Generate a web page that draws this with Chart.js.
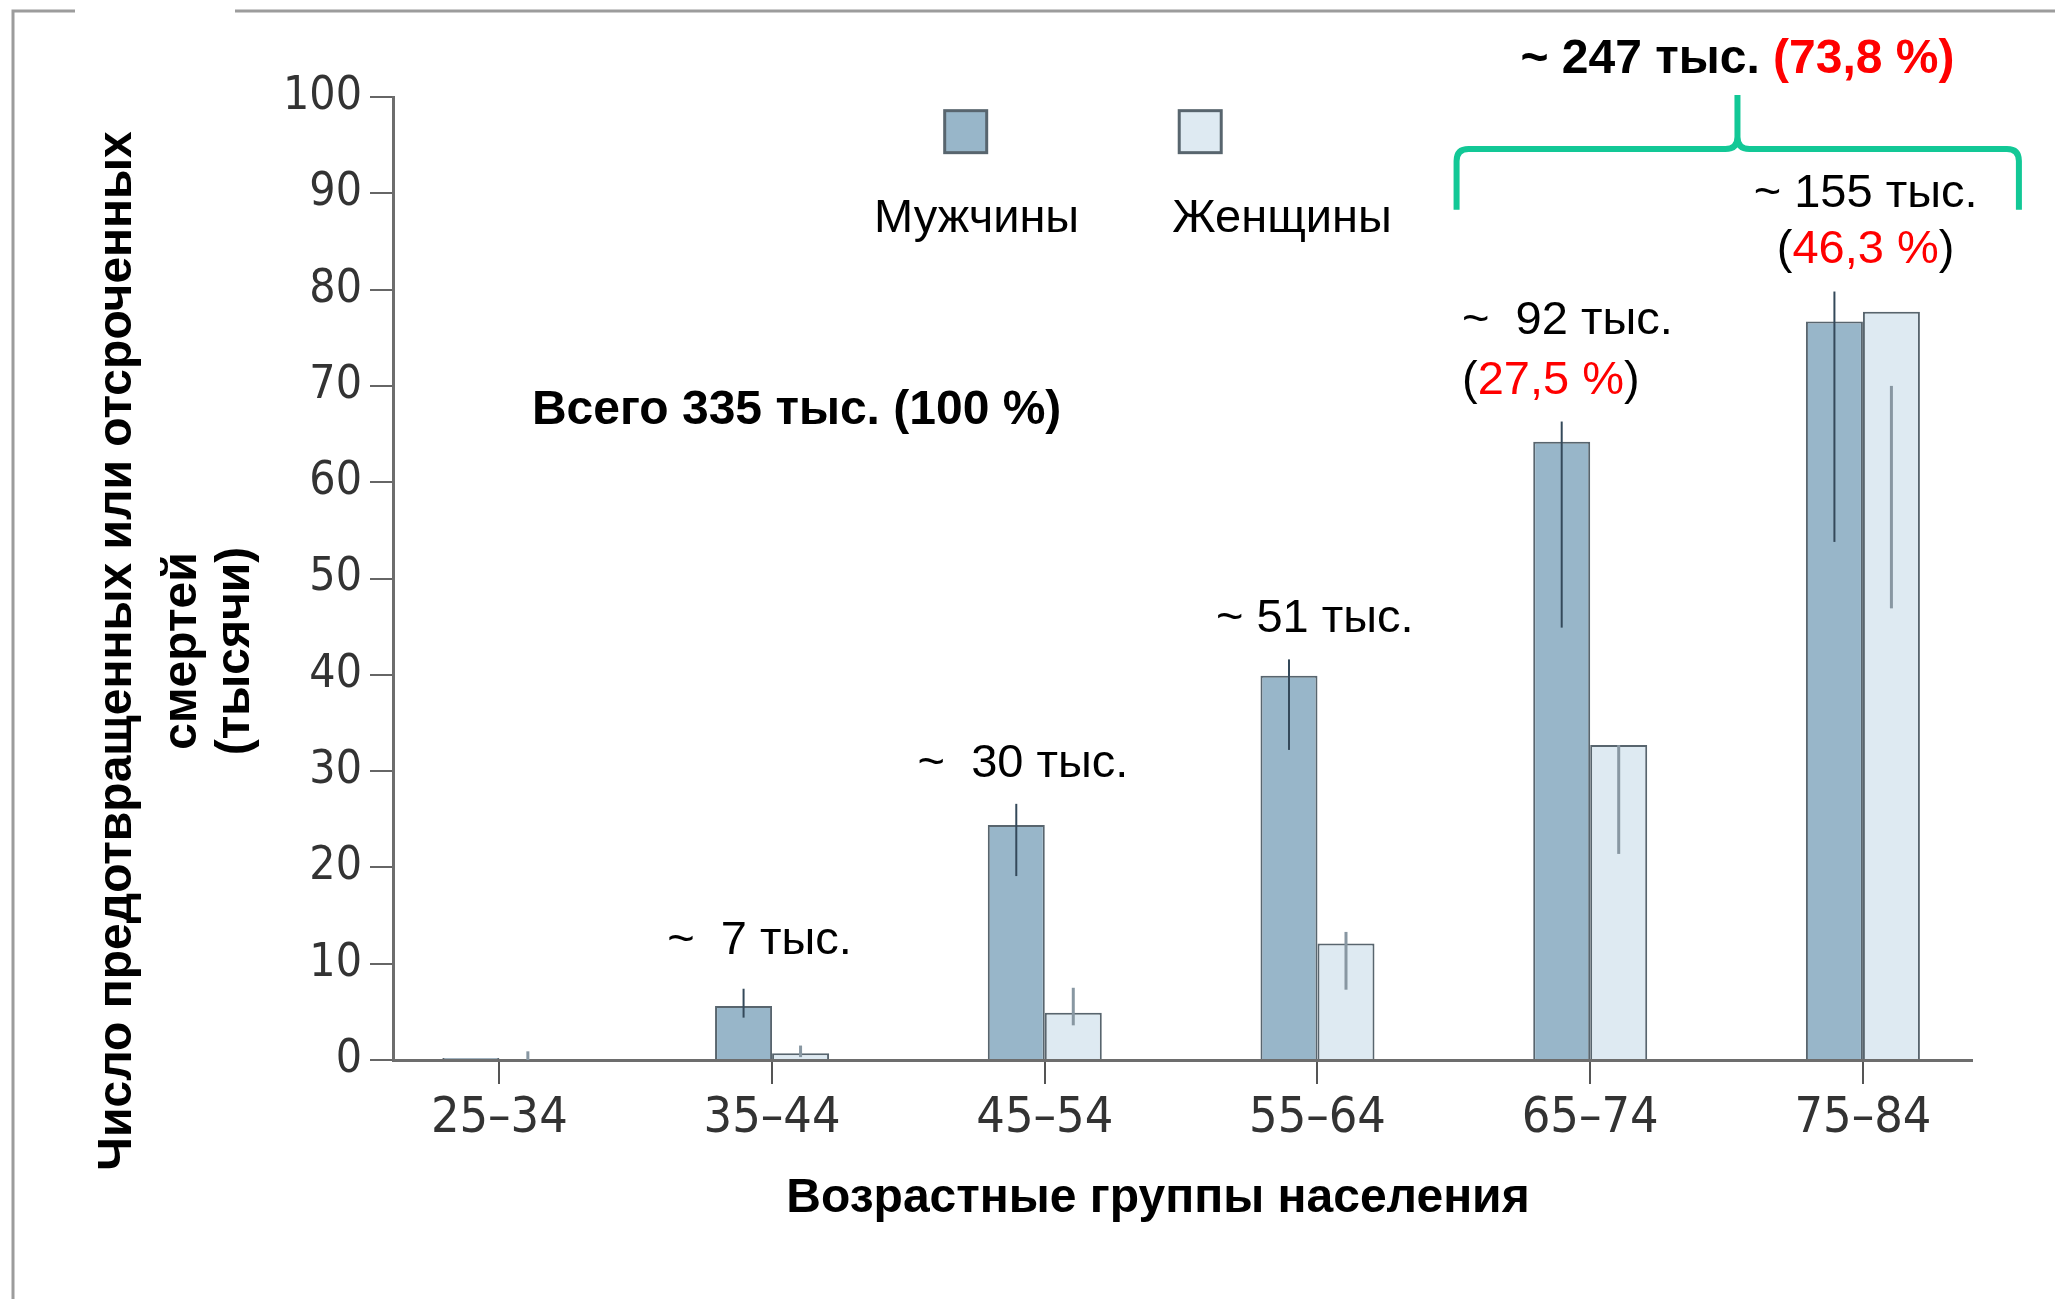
<!DOCTYPE html>
<html>
<head>
<meta charset="utf-8">
<script src="https://cdn.jsdelivr.net/npm/chart.js@4.4.1/dist/chart.umd.min.js"></script>
<style>
  html, body { margin: 0; padding: 0; background: #fff; }
  canvas { display: block; }
</style>
</head>
<body>
<canvas id="chart" width="2055" height="1299"></canvas>
<script>
// age groups and values (thousands of deaths)
const ageGroups = ['25–34', '35–44', '45–54', '55–64', '65–74', '75–84'];
const menValues = [0.2, 5.6, 24.4, 39.9, 64.2, 76.7];
const womenValues = [0.1, 0.7, 4.9, 12.1, 32.7, 77.7];
// uncertainty ranges
const menLow = [0, 4.4, 19.1, 32.2, 44.9, 53.8];
const menHigh = [0, 7.4, 26.6, 41.6, 66.3, 79.8];
const womenLow = [0, 0.3, 3.6, 7.3, 21.4, 46.9];
const womenHigh = [0.9, 1.5, 7.5, 13.3, 32.7, 70.0];
const yTicks = [0, 10, 20, 30, 40, 50, 60, 70, 80, 90, 100];
const seriesNames = ['Мужчины', 'Женщины'];

const RED = '#ff0000';
const TEXT_FONT = "'Liberation Sans', Arial, sans-serif";
const TICK_FONT = "'DejaVu Sans Condensed', 'DejaVu Sans', sans-serif";

// annotations, placed in data units (x = category index, y = value)
const notes = [
    { x: 1.09, y: 67.4, bold: true, parts: [['Всего 335 тыс. (100 %)', '#000']] },
    { x: 0.954, y: 12.4, parts: [['~  7 тыс.', '#000']] },
    { x: 1.92, y: 30.7, parts: [['~  30 тыс.', '#000']] },
    { x: 2.99, y: 45.8, parts: [['~ 51 тыс.', '#000']] },
    { x: 3.53, y: 76.7, align: 'left', parts: [['~  92 тыс.', '#000']] },
    { x: 3.53, y: 70.5, align: 'left', parts: [['(', '#000'], ['27,5 %', RED], [')', '#000']] },
    { x: 5.01, y: 89.9, parts: [['~ 155 тыс.', '#000']] },
    { x: 5.01, y: 84.1, parts: [['(', '#000'], ['46,3 %', RED], [')', '#000']] },
    { x: 4.54, y: 103.9, bold: true, parts: [['~ 247 тыс. ', '#000'], ['(73,8 %)', RED]] }
];

const legendItems = [
    { sq: 1.71, text: 1.75 },
    { sq: 2.57, text: 2.87 }
];

const brace = { x0: 3.51, xm: 4.54, x1: 5.572, yEnd: 88.3, yBar: 94.6, yTip: 100.2 };

const menFill = '#98b6c9';
const womenFill = '#deeaf2';
const barBorder = '#58656e';

function drawParts(ctx, parts, x, y, align) {
    const total = parts.reduce((w, p) => w + ctx.measureText(p[0]).width, 0);
    let cx = align === 'left' ? x : x - total / 2;
    ctx.textAlign = 'left';
    parts.forEach(([t, c]) => {
        ctx.fillStyle = c;
        ctx.fillText(t, cx, y);
        cx += ctx.measureText(t).width;
    });
}

const decor = {
    id: 'decor',
    beforeDraw(chart) {
        const ctx = chart.ctx;
        ctx.save();
        ctx.fillStyle = '#fff';
        ctx.fillRect(0, 0, chart.width, chart.height);
        // frame of the original slide
        ctx.strokeStyle = '#9c9c9c';
        ctx.lineWidth = 3;
        ctx.beginPath();
        ctx.moveTo(13, chart.height);
        ctx.lineTo(13, 11);
        ctx.lineTo(75, 11);
        ctx.moveTo(235, 11);
        ctx.lineTo(chart.width, 11);
        ctx.stroke();
        ctx.restore();
    },
    afterDatasetsDraw(chart) {
        const ctx = chart.ctx;
        const y = chart.scales.y;
        const sets = [
            { meta: chart.getDatasetMeta(0), lo: menLow, hi: menHigh, color: '#34495a', w: 2 },
            { meta: chart.getDatasetMeta(1), lo: womenLow, hi: womenHigh, color: '#8897a2', w: 3 }
        ];
        ctx.save();
        sets.forEach(s => {
            s.meta.data.forEach((bar, i) => {
                if (s.hi[i] <= s.lo[i]) return;
                ctx.strokeStyle = s.color;
                ctx.lineWidth = s.w;
                ctx.beginPath();
                ctx.moveTo(bar.x, y.getPixelForValue(s.lo[i]));
                ctx.lineTo(bar.x, y.getPixelForValue(s.hi[i]));
                ctx.stroke();
            });
        });
        ctx.restore();
    },
    afterDraw(chart) {
        const ctx = chart.ctx;
        const xs = chart.scales.x, ys = chart.scales.y;
        ctx.save();
        ctx.textBaseline = 'middle';

        notes.forEach(n => {
            ctx.font = (n.bold ? 'bold 48px ' : '47px ') + TEXT_FONT;
            drawParts(ctx, n.parts, xs.getPixelForValue(n.x), ys.getPixelForValue(n.y), n.align);
        });

        // legend: swatch above, label below
        const sqSize = 42;
        const colors = [menFill, womenFill];
        legendItems.forEach((it, i) => {
            const cx = xs.getPixelForValue(it.sq);
            const cy = ys.getPixelForValue(96.4);
            ctx.fillStyle = colors[i];
            ctx.fillRect(cx - sqSize / 2, cy - sqSize / 2, sqSize, sqSize);
            ctx.strokeStyle = barBorder;
            ctx.lineWidth = 3;
            ctx.strokeRect(cx - sqSize / 2, cy - sqSize / 2, sqSize, sqSize);
            ctx.font = '47px ' + TEXT_FONT;
            ctx.fillStyle = '#000';
            ctx.textAlign = 'center';
            ctx.fillText(seriesNames[i], xs.getPixelForValue(it.text), ys.getPixelForValue(87.3));
        });

        // green brace over the two oldest groups
        const bx0 = xs.getPixelForValue(brace.x0), bxm = xs.getPixelForValue(brace.xm), bx1 = xs.getPixelForValue(brace.x1);
        const byE = ys.getPixelForValue(brace.yEnd), byB = ys.getPixelForValue(brace.yBar), byT = ys.getPixelForValue(brace.yTip);
        const r = 12;
        ctx.strokeStyle = '#12c896';
        ctx.lineWidth = 6;
        ctx.lineJoin = 'round';
        ctx.beginPath();
        ctx.moveTo(bx0, byE);
        ctx.lineTo(bx0, byB + r);
        ctx.quadraticCurveTo(bx0, byB, bx0 + r, byB);
        ctx.lineTo(bxm - r, byB);
        ctx.quadraticCurveTo(bxm, byB, bxm, byB - r);
        ctx.lineTo(bxm, byT);
        ctx.moveTo(bxm, byB - r);
        ctx.quadraticCurveTo(bxm, byB, bxm + r, byB);
        ctx.lineTo(bx1 - r, byB);
        ctx.quadraticCurveTo(bx1, byB, bx1, byB + r);
        ctx.lineTo(bx1, byE);
        ctx.stroke();

        // axis titles
        ctx.fillStyle = '#000';
        ctx.textAlign = 'center';
        ctx.font = 'bold 48px ' + TEXT_FONT;
        ctx.fillText('Возрастные группы населения', 1158, 1199);
        const yTitle = ['Число предотвращенных или отсроченных', 'смертей', '(тысячи)'];
        const yTitleX = [118, 183, 236];
        yTitle.forEach((line, i) => {
            ctx.save();
            ctx.translate(yTitleX[i], 651);
            ctx.rotate(-Math.PI / 2);
            ctx.fillText(line, 0, 0);
            ctx.restore();
        });
        ctx.restore();
    }
};

new Chart(document.getElementById('chart'), {
    type: 'bar',
    data: {
        datasets: [
            {
                label: seriesNames[0],
                data: menValues.map((v, i) => ({ x: i, y: v })),
                backgroundColor: menFill,
                borderColor: barBorder,
                borderWidth: 2
            },
            {
                label: seriesNames[1],
                data: womenValues.map((v, i) => ({ x: i, y: v })),
                backgroundColor: womenFill,
                borderColor: barBorder,
                borderWidth: 2
            }
        ]
    },
    options: {
        responsive: false,
        devicePixelRatio: 1,
        animation: false,
        categoryPercentage: 0.418,
        barPercentage: 1.0,
        layout: { padding: { top: 97, right: 83, bottom: 0, left: 0 } },
        plugins: {
            legend: { display: false },
            tooltip: { enabled: false }
        },
        scales: {
            x: {
                type: 'linear',
                min: -0.39,
                max: 5.4,
                offset: false,
                afterBuildTicks: s => { s.ticks = ageGroups.map((_, i) => ({ value: i })); },
                afterFit: s => { s.height = 239; },
                ticks: {
                    callback: v => ageGroups[v],
                    font: { family: TICK_FONT, size: 50 },
                    color: '#333',
                    padding: 5,
                    maxRotation: 0
                },
                grid: { offset: false, drawOnChartArea: false, drawTicks: true, tickLength: 24, color: '#555', lineWidth: 2 },
                border: { display: true, color: '#6d6d6d', width: 3 }
            },
            y: {
                min: 0,
                max: 100,
                afterBuildTicks: s => { s.ticks = yTicks.map(v => ({ value: v })); },
                afterFit: s => { s.width = 393; },
                ticks: {
                    font: { family: TICK_FONT, size: 46 },
                    color: '#333',
                    padding: 8
                },
                grid: { drawOnChartArea: false, drawTicks: true, tickLength: 23, color: '#666', lineWidth: 2 },
                border: { display: true, color: '#6d6d6d', width: 3 }
            }
        }
    },
    plugins: [decor]
});
</script>
</body>
</html>
